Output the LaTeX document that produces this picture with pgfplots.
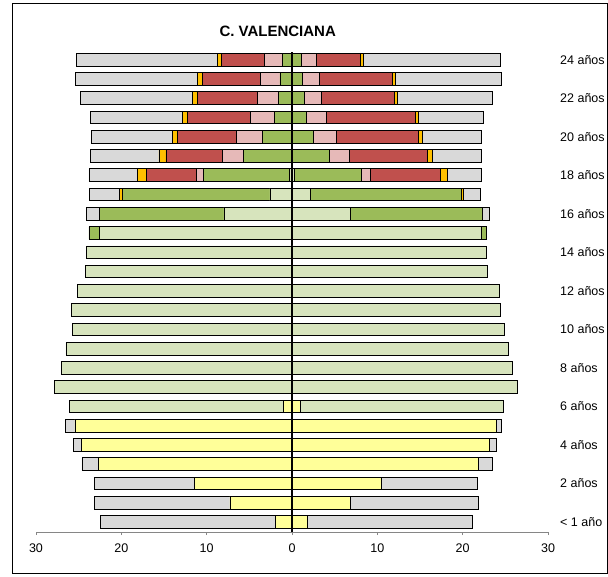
\documentclass[border=0pt]{standalone}
\usepackage{fontspec}
\setmainfont{Liberation Sans}
\usepackage{pgfplots}
\pgfplotsset{compat=1.18}
\usepackage{pgfplotstable}
\definecolor{cyel}{HTML}{FFFF99}
\definecolor{clg}{HTML}{D7E4BD}
\definecolor{cgr}{HTML}{9BBB59}
\definecolor{cpk}{HTML}{E6B9B8}
\definecolor{crd}{HTML}{C0504D}
\definecolor{cor}{HTML}{FFC000}
\definecolor{cgy}{HTML}{D9D9D9}
\definecolor{caxis}{HTML}{868686}

% left side (negative values)
\pgfplotstableread{
y yel lg gr pk rd orng gy
0 -1.99 0 0 0 0 0 -20.51
1 -7.27 0 0 0 0 0 -15.90
2 -11.48 0 0 0 0 0 -11.72
3 -22.70 0 0 0 0 0 -1.91
4 -24.69 0 0 0 0 0 -0.90
5 -25.43 0 0 0 0 0 -1.09
6 -1.02 -25.07 0 0 0 0 0
7 0 -27.89 0 0 0 0 0
8 0 -26.99 0 0 0 0 0
9 0 -26.49 0 0 0 0 0
10 0 -25.78 0 0 0 0 0
11 0 -25.82 0 0 0 0 0
12 0 -25.16 0 0 0 0 0
13 0 -24.18 0 0 0 0 0
14 0 -24.06 0 0 0 0 0
15 0 -22.58 -1.21 0 0 0 0
16 0 -7.97 -14.61 0 0 0 -1.48
17 0 -2.58 -17.34 0 0 -0.27 -3.52
18 0 -0.32 -10.07 -0.86 -5.78 -1.10 -5.66
19 0 0 -5.74 -2.38 -6.65 -0.82 -8.05
20 0 0 -3.48 -3.08 -6.84 -0.63 -9.44
21 0 0 -2.07 -2.77 -7.43 -0.54 -10.83
22 0 0 -1.61 -2.41 -7.08 -0.54 -13.20
23 0 0 -1.41 -2.26 -6.84 -0.54 -14.30
24 0 0 -1.14 -2.14 -5.01 -0.46 -16.48
}\lefttab

% right side
\pgfplotstableread{
y yel lg gr pk rd orng gy
0 1.80 0 0 0 0 0 19.33
1 6.88 0 0 0 0 0 14.92
2 10.51 0 0 0 0 0 11.21
3 21.80 0 0 0 0 0 1.68
4 23.13 0 0 0 0 0 0.82
5 23.99 0 0 0 0 0 0.50
6 0.98 23.79 0 0 0 0 0
7 0 26.41 0 0 0 0 0
8 0 25.86 0 0 0 0 0
9 0 25.31 0 0 0 0 0
10 0 24.93 0 0 0 0 0
11 0 24.46 0 0 0 0 0
12 0 24.34 0 0 0 0 0
13 0 22.93 0 0 0 0 0
14 0 22.77 0 0 0 0 0
15 0 22.23 0.59 0 0 0 0
16 0 6.88 15.39 0 0 0 0.90
17 0 2.11 17.73 0 0 0.24 2.03
18 0 0.27 7.90 1.01 8.16 0.86 4.03
19 0 0 4.34 2.34 9.14 0.67 5.74
20 0 0 2.54 2.70 9.61 0.47 6.91
21 0 0 1.68 2.34 10.43 0.32 7.69
22 0 0 1.44 1.96 8.59 0.40 11.05
23 0 0 1.25 1.91 8.64 0.31 12.42
24 0 0 1.09 1.76 5.15 0.32 16.14
}\righttab

\pgfplotsset{
  common/.style={
    width=512pt, height=480pt, scale only axis,
    at={(36pt,44pt)}, anchor=south west,
    xmin=-30, xmax=30, ymin=-0.52, ymax=24.4,
    xbar stacked, bar width=0.66,
    every axis plot/.append style={draw=black, line width=0.9pt},
    /pgf/number format/assume math mode=true,
    tick label style={font=\fontsize{12.5}{14}\selectfont},
  }
}

\begin{document}
\begin{tikzpicture}
\useasboundingbox (0,0) rectangle (608pt,576pt);
\draw[line width=0.9pt] (12.5pt,2.7pt) rectangle (607.6pt,572.3pt);
\node[font=\fontsize{15}{17}\selectfont\bfseries] at (277.7pt,544.3pt) {C. VALENCIANA};

\begin{axis}[common,
  axis x line*=bottom, axis y line=none,
  axis line style={-, draw=caxis, line width=0.9pt},
  xtick={-30,-20,-10,0,10,20,30},
  xticklabels={30,20,10,0,10,20,30},
  xtick style={draw=caxis, line width=0.9pt},
  tick align=outside, major tick length=3pt,
  xticklabel style={inner sep=0pt, yshift=-8.5pt},
]
\addplot[fill=cyel] table[x=yel,y=y]{\lefttab};
\addplot[fill=clg] table[x=lg,y=y]{\lefttab};
\addplot[fill=cgr] table[x=gr,y=y]{\lefttab};
\addplot[fill=cpk] table[x=pk,y=y]{\lefttab};
\addplot[fill=crd] table[x=rd,y=y]{\lefttab};
\addplot[fill=cor] table[x=orng,y=y]{\lefttab};
\addplot[fill=cgy] table[x=gy,y=y]{\lefttab};
\end{axis}

\begin{axis}[common,
  axis x line=none, axis y line*=right,
  y axis line style={draw=none},
  ytick={0,2,...,24},
  yticklabels={{< 1 año},{2 años},{4 años},{6 años},{8 años},{10 años},{12 años},{14 años},{16 años},{18 años},{20 años},{22 años},{24 años}},
  ytick style={draw=none}, major tick length=0pt,
  yticklabel style={anchor=west, inner sep=0pt, xshift=12pt},
]
\addplot[fill=cyel] table[x=yel,y=y]{\righttab};
\addplot[fill=clg] table[x=lg,y=y]{\righttab};
\addplot[fill=cgr] table[x=gr,y=y]{\righttab};
\addplot[fill=cpk] table[x=pk,y=y]{\righttab};
\addplot[fill=crd] table[x=rd,y=y]{\righttab};
\addplot[fill=cor] table[x=orng,y=y]{\righttab};
\addplot[fill=cgy] table[x=gy,y=y]{\righttab};
\draw[line width=1.3pt] (axis cs:0,-0.52) -- (axis cs:0,24.4);
\end{axis}
\end{tikzpicture}
\end{document}
